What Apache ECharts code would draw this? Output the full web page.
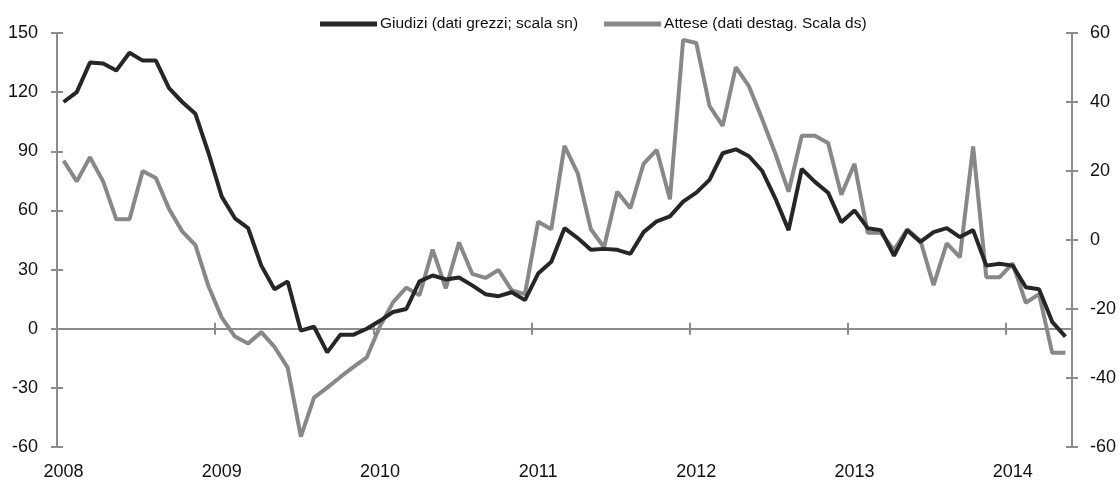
<!DOCTYPE html>
<html>
<head>
<meta charset="utf-8">
<script src="https://cdn.jsdelivr.net/npm/echarts@6/dist/echarts.min.js"></script>
<style>
  html, body { margin: 0; padding: 0; background: #fff; }
  #chart { width: 1119px; height: 481px; }
</style>
</head>
<body>
<div id="chart"></div>
<script>
// monthly, Jan 2008 - May 2014
var years = ['2008', '2009', '2010', '2011', '2012', '2013', '2014'];
var months = ['01', '02', '03', '04', '05', '06', '07', '08', '09', '10', '11', '12'];

// Giudizi (raw data, left scale)
var giudizi = [
  115, 120, 135, 134.5, 131, 140, 136, 136, 122, 115, 109, 89,
  67, 56, 51, 32, 20, 24, -1, 1, -12, -3, -3, 0,
  4, 8.5, 10, 24, 27, 25, 26, 22, 17.5, 16.5, 18.5, 14.5,
  28, 34, 51, 46, 40, 40.5, 40, 38, 49, 54.5, 57, 64.5,
  69, 75.5, 89, 91, 87.5, 80, 66, 50, 81, 74.5, 69, 54,
  60, 51, 50, 37, 50, 44, 49, 51, 46.5, 50, 32, 33,
  32, 21, 20, 3.5, -4
];

// Attese (seasonally adjusted, right scale)
var attese = [
  23, 17, 24, 17, 6, 6, 20, 18, 9, 2.5, -1.5, -13.5,
  -22.5, -28, -30, -26.7, -31, -37, -57, -45.7, -42.8, -39.7, -36.8, -34,
  -25, -18, -13.8, -16, -2.8, -14, -0.7, -9.8, -11, -8.7, -14.6, -15.7,
  5.3, 3.1, 27.3, 19.4, 3.1, -2.1, 14, 9.2, 22.1, 26.1, 11.8, 58,
  57.1, 38.9, 33.1, 50.1, 44.5, 35, 25, 14, 30.2, 30.2, 28.1, 13.1,
  22.1, 2.1, 2.1, -2.9, 3.1, -0.2, -13.1, -1, -5, 27.1, -10.8, -10.8,
  -6.8, -18.2, -15.7, -32.7, -32.7
];

var categories = [];
years.forEach(function (y) {
  months.forEach(function (m) { categories.push(y + '-' + m); });
});
categories = categories.slice(0, giudizi.length);

var FONT = '"Liberation Sans", Arial, sans-serif';
var AXIS_GREY = '#8c8c8c';
var yearStart = function (index) { return index % 12 === 0; };

var chart = echarts.init(document.getElementById('chart'));

function xAxisBase() {
  return {
    type: 'category',
    data: categories,
    boundaryGap: true,
    axisLine: { show: false },
    axisTick: { show: false },
    axisLabel: { show: false },
    splitLine: { show: false }
  };
}

// line on zero with ticks pointing down
var xLine = xAxisBase();
xLine.position = 'bottom';
xLine.axisLine = { show: true, onZero: true, onZeroAxisIndex: 0, lineStyle: { color: AXIS_GREY, width: 2 } };
xLine.axisTick = { show: true, interval: yearStart, length: 6, lineStyle: { color: AXIS_GREY, width: 2 } };

// same line, ticks pointing up
var xTickUp = xAxisBase();
xTickUp.position = 'bottom';
xTickUp.axisLine = { show: true, onZero: true, onZeroAxisIndex: 0, lineStyle: { color: AXIS_GREY, width: 2 } };
xTickUp.axisTick = { show: true, inside: true, interval: yearStart, length: 6, lineStyle: { color: AXIS_GREY, width: 2 } };

// year labels under the plot
var xLabels = xAxisBase();
xLabels.position = 'bottom';
xLabels.axisLine = { show: false, onZero: false };
xLabels.axisLabel = {
  show: true, interval: yearStart, margin: 16,
  color: '#111', fontSize: 18, fontFamily: FONT,
  formatter: function (v) { return v.slice(0, 4); }
};

function yAxisMain(pos, min, max, step, margin) {
  return {
    type: 'value', position: pos, min: min, max: max, interval: step,
    axisLine: { show: true, lineStyle: { color: AXIS_GREY, width: 2 } },
    axisTick: { show: true, length: 6, lineStyle: { color: AXIS_GREY, width: 2 } },
    axisLabel: { margin: margin, color: '#111', fontSize: 18, fontFamily: FONT },
    splitLine: { show: false }
  };
}

function yAxisInner(pos, min, max, step) {
  return {
    type: 'value', position: pos, min: min, max: max, interval: step,
    axisLine: { show: false },
    axisTick: { show: true, inside: true, length: 6, lineStyle: { color: AXIS_GREY, width: 2 } },
    axisLabel: { show: false },
    splitLine: { show: false }
  };
}

var option = {
  animation: false,
  backgroundColor: '#fff',
  grid: { left: 57, right: 46, top: 33, bottom: 34, containLabel: false },
  legend: {
    left: 315, top: 11,
    icon: 'rect', itemWidth: 57, itemHeight: 5, itemGap: 26,
    textStyle: { fontSize: 15.5, fontFamily: FONT, color: '#111', padding: [0, 0, 0, -2] },
    data: ['Giudizi (dati grezzi; scala sn)', 'Attese (dati destag. Scala ds)']
  },
  xAxis: [xLine, xTickUp, xLabels],
  yAxis: [
    yAxisMain('left', -60, 150, 30, 19),
    yAxisMain('right', -60, 60, 20, 18),
    yAxisInner('left', -60, 150, 30),
    yAxisInner('right', -60, 60, 20)
  ],
  series: [
    {
      name: 'Giudizi (dati grezzi; scala sn)', type: 'line',
      xAxisIndex: 0, yAxisIndex: 0, data: giudizi,
      showSymbol: false, symbol: 'none', z: 3,
      itemStyle: { color: '#262626' },
      lineStyle: { color: '#262626', width: 4 }
    },
    {
      name: 'Attese (dati destag. Scala ds)', type: 'line',
      xAxisIndex: 0, yAxisIndex: 1, data: attese,
      showSymbol: false, symbol: 'none', z: 2,
      itemStyle: { color: '#888888' },
      lineStyle: { color: '#888888', width: 4 }
    }
  ]
};

chart.setOption(option);
</script>
</body>
</html>
